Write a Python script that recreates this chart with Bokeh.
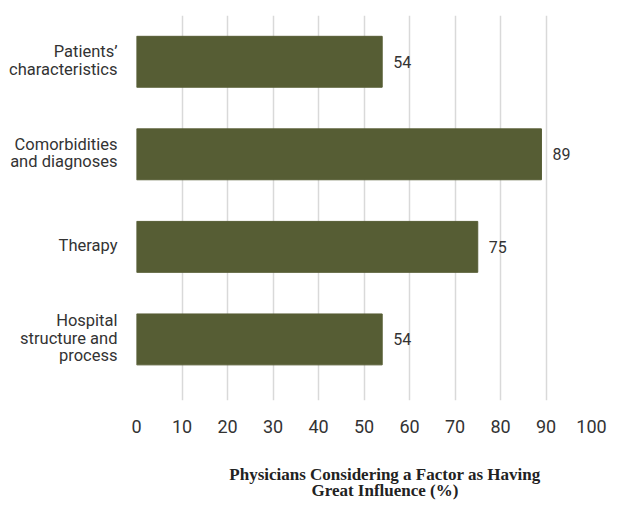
from bokeh.plotting import figure
from bokeh.models import Range1d, FixedTicker, LinearAxis, ColumnDataSource
from bokeh.core.properties import value
from bokeh.embed import file_html
from bokeh.resources import INLINE

categories = ["Patients\u2019\ncharacteristics", "Comorbidities\nand diagnoses", "Therapy", "Hospital\nstructure and\nprocess"]
values = [54, 89, 75, 54]
x_ticks = [0, 10, 20, 30, 40, 50, 60, 70, 80, 90, 100]
x_title_lines = ["Physicians Considering a Factor as Having", "Great Influence (%)"]
x_title_center = 54.6  # horizontal anchor of the axis title, in axis units

n = len(categories)
ypos = [n - 1 - i for i in range(n)]
src = ColumnDataSource(dict(y=ypos, v=values, lab=[str(v) for v in values]))

# one tick per label line so that every line is right-aligned
line_step = 0.1875
tick_pos = []
overrides = {}
for c, cat in zip(ypos, categories):
    lines = cat.split("\n")
    k = len(lines)
    for j, ln in enumerate(lines):
        t = round(c + 0.015 + (k - 1) / 2 * line_step - j * line_step, 4)
        tick_pos.append(t)
        overrides[t] = ln

p = figure(width=600, height=506, output_backend="svg", toolbar_location=None,
           x_range=Range1d(0, 100), y_range=Range1d(-0.66, 3.5),
           min_border_left=136, min_border_right=17, min_border_top=15, min_border_bottom=10)
p.frame_width = 455
p.frame_height = 385
p.outline_line_color = None

p.hbar(y="y", right="v", left=0, height=0.55, source=src, color="#565d34")
p.text(x="v", y="y", text="lab", source=src, x_offset=11, text_baseline="middle",
       text_align="left", text_font=value("Roboto"), text_font_size="16px", text_color="#333333")

p.xgrid.ticker = FixedTicker(ticks=x_ticks)
p.xgrid.grid_line_color = "#d9d9d9"
p.xgrid.grid_line_width = 1.5
p.ygrid.grid_line_color = None

def strip(ax):
    ax.axis_line_color = None
    ax.major_tick_line_color = None
    ax.minor_tick_line_color = None

xa = p.xaxis[0]
xa.ticker = FixedTicker(ticks=x_ticks)
strip(xa)
xa.major_label_standoff = 13
xa.major_label_text_font = "Roboto"
xa.major_label_text_font_size = "18px"
xa.major_label_text_color = "#333333"

ya = p.yaxis[0]
ya.ticker = FixedTicker(ticks=tick_pos)
ya.major_label_overrides = overrides
strip(ya)
ya.major_label_standoff = 13
ya.major_label_text_align = "right"
ya.major_label_text_font = "Roboto"
ya.major_label_text_font_size = "16.5px"
ya.major_label_text_color = "#333333"

for i, txt in enumerate(x_title_lines):
    ax = LinearAxis(ticker=FixedTicker(ticks=[x_title_center]),
                    major_label_overrides={x_title_center: txt})
    strip(ax)
    ax.major_label_standoff = 23 if i == 0 else -12
    ax.major_label_text_font = "Liberation Serif"
    ax.major_label_text_font_style = "bold"
    ax.major_label_text_font_size = "17px"
    ax.major_label_text_color = "#222222"
    p.add_layout(ax, "below")

open("out.html", "w").write(file_html(p, INLINE))
